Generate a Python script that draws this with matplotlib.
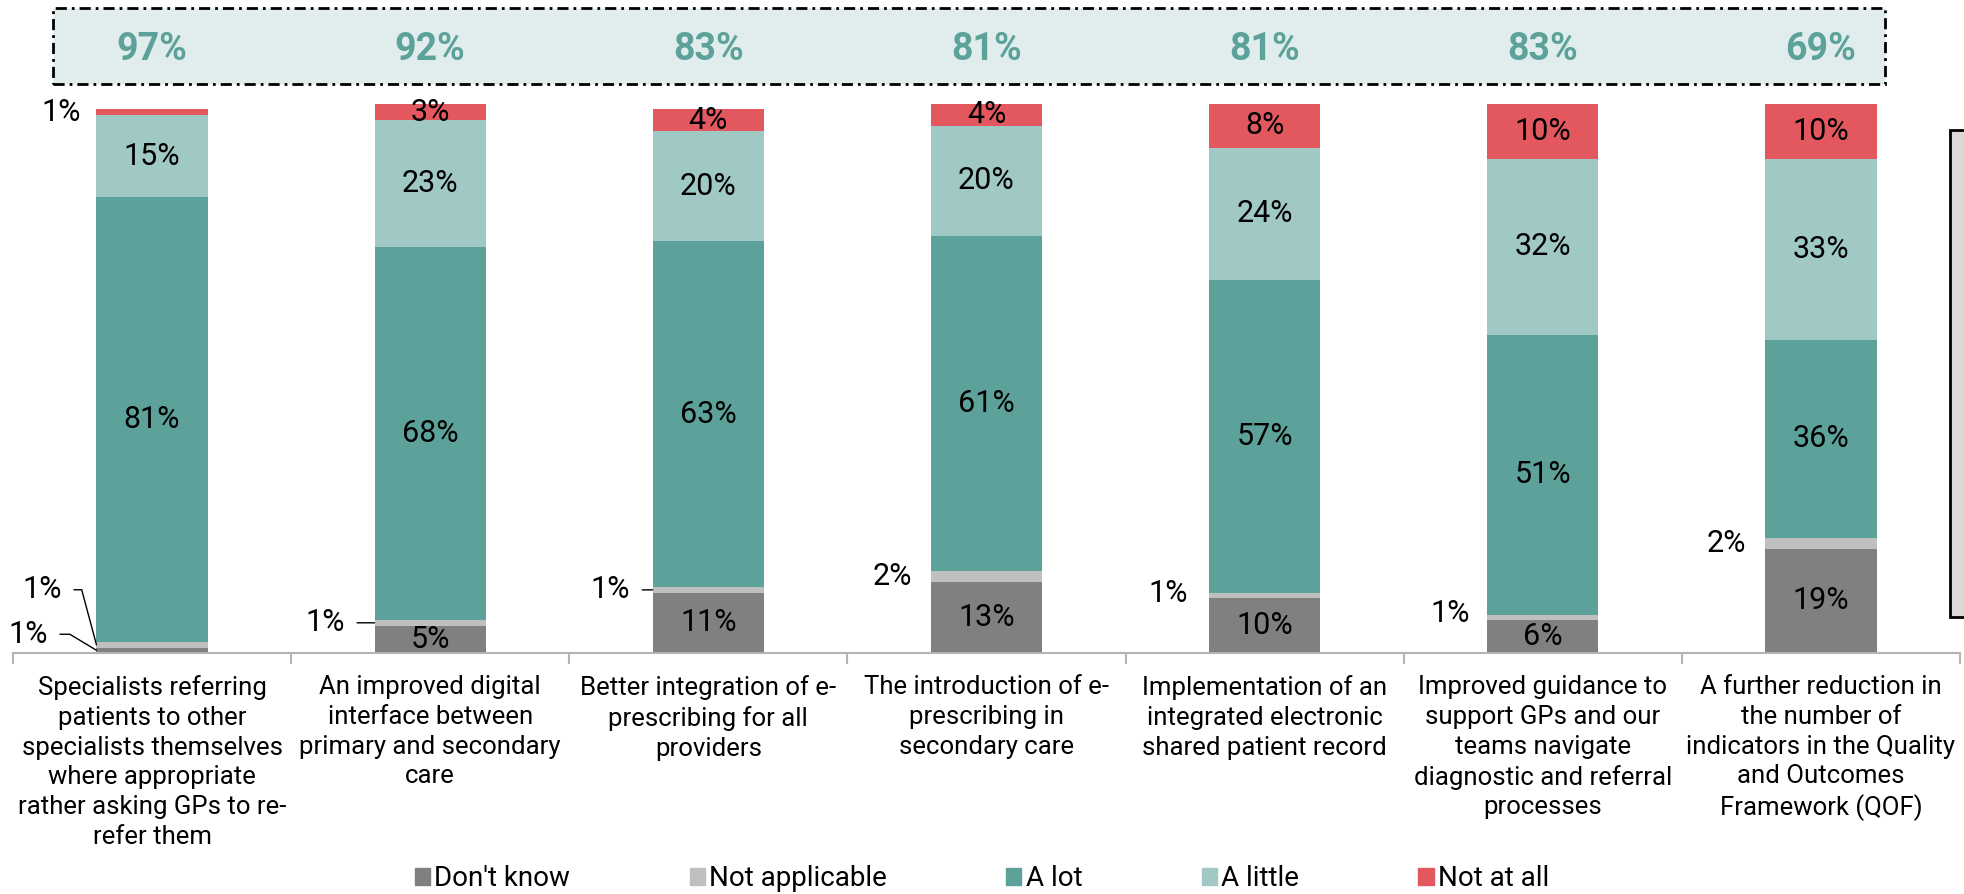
import numpy as np
import matplotlib.pyplot as plt
from matplotlib.patches import Rectangle, Patch

plt.rcParams['font.family'] = ['Roboto', 'DejaVu Sans']

# survey answers per item, stacked bottom to top
categories = [
    "Specialists referring\npatients to other\nspecialists themselves\nwhere appropriate\nrather asking GPs to re-\nrefer them",
    "An improved digital\ninterface between\nprimary and secondary\ncare",
    "Better integration of e-\nprescribing for all\nproviders",
    "The introduction of e-\nprescribing in\nsecondary care",
    "Implementation of an\nintegrated electronic\nshared patient record",
    "Improved guidance to\nsupport GPs and our\nteams navigate\ndiagnostic and referral\nprocesses",
    "A further reduction in\nthe number of\nindicators in the Quality\nand Outcomes\nFramework (QOF)",
]
series = ["Don't know", "Not applicable", "A lot", "A little", "Not at all"]
dont_know = [1, 5, 11, 13, 10, 6, 19]
not_applicable = [1, 1, 1, 2, 1, 1, 2]
a_lot = [81, 68, 63, 61, 57, 51, 36]
a_little = [15, 23, 20, 20, 24, 32, 33]
not_at_all = [1, 3, 4, 4, 8, 10, 10]
helpful_total = [97, 92, 83, 81, 81, 83, 69]

colors = ['#808080', '#bfbfbf', '#5da29a', '#a0c8c4', '#e3585f']
teal_text = '#5da29a'

W, H = 1964, 894
fig = plt.figure(figsize=(W / 100, H / 100), dpi=100)
ax = fig.add_axes([13 / W, (H - 653) / H, 1947 / W, 549 / H])
ax.patch.set_visible(False)

x = np.arange(len(categories))
bw = 0.4
values = [dont_know, not_applicable, a_lot, a_little, not_at_all]
bottom = np.zeros(len(x))

# outside labels: (series, bar) -> (dx, dy) in pixels, and leader line style
outside = {
    (4, 0): (-16, 0, None),
    (1, 0): (-35, 55, 'angle,angleA=0,angleB=105,rad=0'),
    (0, 0): (-49, 16, 'angle,angleA=0,angleB=149,rad=0'),
    (1, 1): (-30, 0, 'arc3'),
    (1, 2): (-23, 0, 'arc3'),
    (1, 3): (-19, 0, None),
    (1, 4): (-21, 2, None),
    (1, 5): (-17, 4, None),
    (1, 6): (-19, 0, None),
}

for si, (vals, name, c) in enumerate(zip(values, series, colors)):
    ax.bar(x, vals, bw, bottom=bottom, color=c, label=name)
    for i, v in enumerate(vals):
        yc = bottom[i] + v / 2
        if (si, i) in outside:
            dx, dy, style = outside[(si, i)]
            arrow = None
            if style is not None:
                arrow = dict(arrowstyle='-', color='black', lw=1,
                             connectionstyle=style, relpos=(1, 0.5),
                             shrinkA=7, shrinkB=0)
            ax.annotate(f'{v}%', xy=(i - bw / 2, yc), xytext=(dx, dy),
                        textcoords='offset pixels', ha='right', va='center',
                        fontsize=22, arrowprops=arrow, annotation_clip=False)
        else:
            ax.text(i, yc, f'{v}%', ha='center', va='center', fontsize=22)
    bottom += vals

ax.set_xlim(-0.5, len(x) - 0.5)
ax.set_ylim(0, 100)
ax.set_yticks([])
for s in ['top', 'right', 'left']:
    ax.spines[s].set_visible(False)
ax.spines['bottom'].set_color('#b4b4b4')
ax.spines['bottom'].set_linewidth(1.5)
ax.set_xticks(x)
ax.set_xticklabels(categories, fontsize=18.5, linespacing=1.3)
ax.set_xticks(np.arange(-0.5, len(x)), minor=True)
ax.tick_params(axis='x', which='major', length=0, pad=16)
ax.tick_params(axis='x', which='minor', length=8, width=1.5, color='#b4b4b4')

# banner with the combined share above each bar
fig.add_artist(Rectangle((53 / W, 1 - 84 / H), (1885 - 53) / W, 76 / H,
                         transform=fig.transFigure, facecolor='#e1eded',
                         edgecolor='black', lw=2, zorder=-1,
                         linestyle=(0, (4, 1.8, 1, 1.8))))
for i, t in enumerate(helpful_total):
    ax.text(i, (653 - 50) / 549, f'{t}%', transform=ax.get_xaxis_transform(),
            ha='center', va='center', fontsize=27, fontweight='bold',
            color=teal_text, clip_on=False)

# grey box at the right edge
fig.add_artist(Rectangle((1950 / W, 1 - 617 / H), 40 / W, 487 / H,
                         transform=fig.transFigure, facecolor='#d9d9d9',
                         edgecolor='black', lw=2, zorder=-1))

handles = [Patch(color=c) for c in colors]
fig.legend(handles, series, loc='center', bbox_to_anchor=(0.5, 15 / H),
           ncol=5, frameon=False, fontsize=20, handlelength=0.55,
           handleheight=0.55, handletextpad=0.15, columnspacing=4.3)

fig.savefig('out.png', dpi=100)
